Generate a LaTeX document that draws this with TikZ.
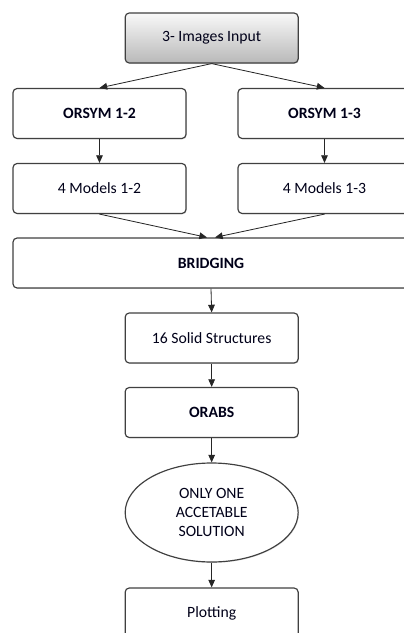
\documentclass[tikz,border=0pt]{standalone}
\usepackage{fontspec}
\setmainfont{Carlito}
\usetikzlibrary{arrows.meta,shapes.geometric,shadows}
\begin{document}
\begin{tikzpicture}[
	box/.style={draw=black!75,line width=1pt,rounded corners=3.5pt,fill=white,
		minimum width=5.19cm,minimum height=1.5cm,text=black!90!blue,font=\fontsize{13.4}{15}\selectfont,
		drop shadow={opacity=0.25,shadow xshift=0.7pt,shadow yshift=-0.7pt}},
	bold/.style={font=\fontsize{13.4}{15}\selectfont\bfseries},
	oval/.style={box,ellipse,rounded corners=0pt,minimum height=2.97cm,align=center,
		font=\fontsize{13.4}{16.2}\selectfont},
	arr/.style={-{Triangle[length=2.3mm,width=2mm]},line width=0.7pt,black!85}]
	\useasboundingbox (0,0) rectangle (12.09,-18.99);
	% input and the two ORSYM branches
	\node[box,top color=gray!5,bottom color=gray!55] (input) at (6.35,-1.14) {3- Images Input};
	\node[box,bold] (orsym12) at (2.985,-3.405) {ORSYM 1-2};
	\node[box,bold] (orsym13) at (9.735,-3.405) {ORSYM 1-3};
	\node[box] (models12) at (2.985,-5.655) {4 Models 1-2};
	\node[box] (models13) at (9.735,-5.655) {4 Models 1-3};
	% main column
	\node[box,bold,minimum width=11.88cm] (bridging) at (6.33,-7.89) {BRIDGING};
	\node[box] (solid) at (6.35,-10.14) {16 Solid Structures};
	\node[box,bold] (orabs) at (6.35,-12.375) {ORABS};
	\node[oval] (sol) at (6.35,-15.375) {ONLY ONE\\ACCETABLE\\SOLUTION};
	\node[box] (plot) at (6.35,-18.39) {Plotting};
	% connectors
	\draw[arr] (input.south) -- (orsym12.north);
	\draw[arr] (input.south) -- (orsym13.north);
	\foreach \a/\b in {orsym12/models12,orsym13/models13,bridging/solid,solid/orabs,orabs/sol,sol/plot}
	\draw[arr] (\a.south) -- (\b.north);
	\draw[arr] (models12.south) -- ([xshift=-0.12cm]bridging.north);
	\draw[arr] (models13.south) -- ([xshift=0.12cm]bridging.north);
\end{tikzpicture}
\end{document}
